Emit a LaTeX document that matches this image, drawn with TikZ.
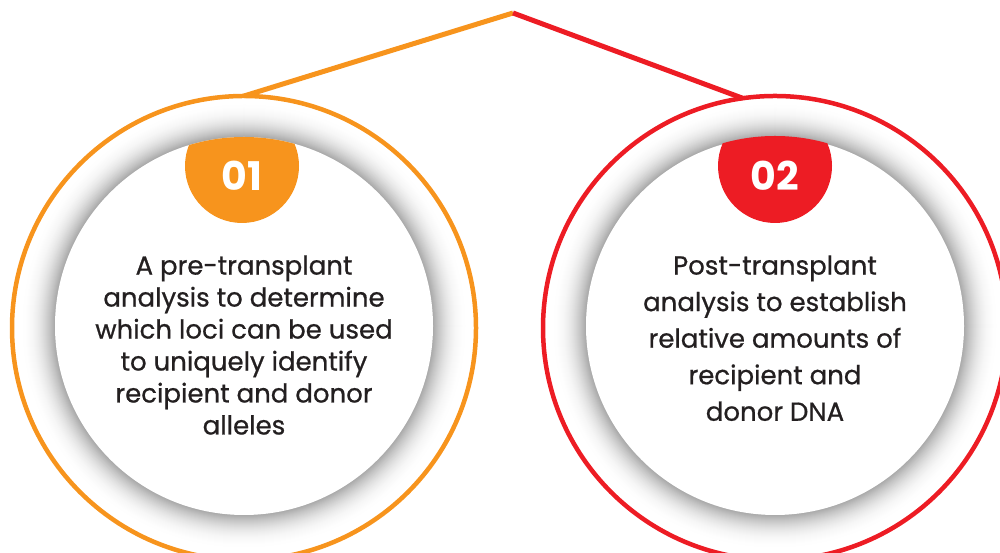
\documentclass[tikz,border=0pt]{standalone}
\usepackage{fontspec}
\setmainfont{Poppins}
\newfontfamily\bodyfont{Poppins}[FakeBold=0.7]
\usetikzlibrary{calc}
\definecolor{stepOrange}{HTML}{F7941D}
\definecolor{stepRed}{HTML}{ED1C24}
\definecolor{bodyInk}{HTML}{231F20}
\begin{document}
\begin{tikzpicture}[x=0.02cm,y=0.02cm,
    ringline/.style={line width=0.09cm},
    linkline/.style={line width=0.1cm},
    bodytext/.style={align=center,text=bodyInk,inner sep=0pt,anchor=north},
    badgetext/.style={text=white,inner sep=0pt,font=\fontsize{22.5}{22.5}\selectfont\bfseries}]

\useasboundingbox (0,0) rectangle (1000,553);

% centres of the two circles
\coordinate (lc) at (244,225);
\coordinate (rc) at (775,225);
\coordinate (lin) at (244,227);
\coordinate (rin) at (775,227);

% soft shadow round the white discs
\foreach \c in {lin,rin}{
  \foreach \i in {0,...,34}{
    \pgfmathsetmacro{\shade}{33*(\i/34)^2.2}
    \fill[black!\shade] (\c) circle (224-\i);
  }
  \fill[white] (\c) circle (189);
}

% number badges, cut by the discs
\begin{scope}
  \clip (lin) circle (189);
  \fill[stepOrange] (242,387) circle (57);
\end{scope}
\begin{scope}
  \clip (rin) circle (190);
  \fill[stepRed] (775,387) circle (57);
\end{scope}
\node[badgetext] (lnum) at (242,377) {01};
\node[badgetext] (rnum) at (775,377) {02};

% outer rings
\draw[ringline,stepOrange] (lc) circle (232);
\draw[ringline,stepRed] (rc) circle (232);

% links from the peak
\coordinate (peak) at (513,540);
\coordinate (ljoin) at ($(lc)+(90:232)$);
\coordinate (rjoin) at ($(rc)+(98:232)$);
\draw[linkline,stepOrange] (peak) -- (ljoin);
\draw[linkline,stepRed] (peak) -- (rjoin);

% texts
\node[bodytext,font=\bodyfont\fontsize{14.8}{18.2}\selectfont] (ltext) at (244,298)
  {A pre-transplant\\analysis to determine\\which loci can be used\\to uniquely identify\\recipient and donor\\alleles};
\node[bodytext,font=\bodyfont\fontsize{14.8}{20.8}\selectfont] (rtext) at (775,298)
  {Post-transplant\\analysis to establish\\relative amounts of\\recipient and\\donor DNA};

\end{tikzpicture}
\end{document}
